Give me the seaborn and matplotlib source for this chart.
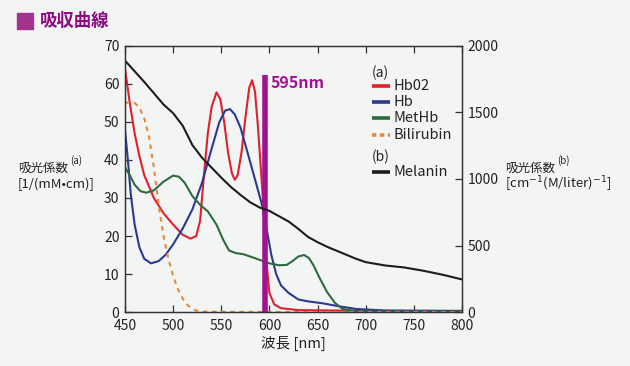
import numpy as np
import pandas as pd
import matplotlib
matplotlib.use("Agg")
import matplotlib.pyplot as plt
import seaborn as sns

# ---------------- data ----------------
hbo2_wl = [450, 455, 460, 465, 470, 480, 490, 500, 510, 518, 524, 528, 532, 536, 540, 545,
           549, 553, 557, 561, 564, 567, 571, 575, 579, 582, 585, 588, 591, 594, 597, 600,
           605, 612, 630, 700, 800]
hbo2_val = [64, 55, 47, 41, 36, 30, 26, 23, 20.3, 19.3, 20, 24, 36, 47, 54, 57.8,
            56, 50, 42, 36.5, 34.8, 36, 42, 51, 59, 61, 58, 49, 38, 27, 13, 5,
            2, 1, 0.5, 0.3, 0.2]

hb_wl = [450, 453, 456, 460, 465, 470, 477, 485, 492, 500, 510, 520, 530, 540, 548, 554,
         559, 564, 570, 575, 580, 586, 592, 597, 602, 607, 612, 620, 630, 640, 655, 670,
         690, 720, 800]
hb_val = [48, 40, 31, 23, 17, 14, 12.8, 13.4, 15, 17.8, 22, 27, 34, 43, 50, 53,
          53.4, 52, 48.5, 44, 39.5, 34, 28.5, 22, 15, 10, 7, 5, 3.3, 2.8, 2.3, 1.6,
          0.8, 0.4, 0.3]

methb_wl = [450, 455, 460, 466, 472, 480, 490, 500, 506, 512, 520, 528, 536, 545, 552, 558,
            565, 573, 580, 590, 600, 610, 618, 624, 630, 636, 641, 646, 652, 660, 668, 676,
            690, 800]
methb_val = [38, 36, 33.5, 31.8, 31.4, 32, 34.3, 35.9, 35.6, 34, 30.5, 28.2, 26.5, 23, 19, 16.2,
             15.5, 15.2, 14.6, 13.7, 12.8, 12.3, 12.4, 13.4, 14.6, 15, 14.2, 12.2, 9, 5.2, 2.4, 0.8,
             0.2, 0.1]

bili_wl = [450, 455, 460, 465, 470, 475, 480, 485, 490, 495, 500, 505, 510, 515, 520, 525,
           530, 600, 700, 800]
bili_val = [55, 55.2, 55, 53.8, 51, 46, 38, 28, 20, 14, 9.5, 6, 3.5, 1.8, 0.8, 0.3,
            0.1, 0, 0, 0]

melanin_wl = [450, 470, 490, 500, 510, 520, 530, 540, 550, 560, 570, 580, 590, 600, 610, 620,
              630, 640, 650, 660, 670, 680, 690, 700, 720, 740, 760, 780, 800]
melanin_val = [1890, 1730, 1560, 1495, 1400, 1255, 1160, 1085, 1010, 940, 880, 825, 785, 760, 720, 680,
               625, 565, 525, 490, 460, 430, 400, 375, 350, 335, 310, 280, 245]

marker_wl = 595
marker_top = 62.3

series_names = ["Hb02", "Hb", "MetHb", "Bilirubin"]
series_colors = ["#e0202c", "#2b3990", "#2e6b3c", "#e8883a"]
melanin_color = "#1c1c1c"
purple = "#a1128f"

xticks = [450, 500, 550, 600, 650, 700, 750, 800]
yticks_left = [0, 10, 20, 30, 40, 50, 60, 70]
yticks_right = [0, 500, 1000, 1500, 2000]

# ---------------- build tables ----------------
df = pd.concat([
    pd.DataFrame({"wl": hbo2_wl, "val": hbo2_val, "series": "Hb02"}),
    pd.DataFrame({"wl": hb_wl, "val": hb_val, "series": "Hb"}),
    pd.DataFrame({"wl": methb_wl, "val": methb_val, "series": "MetHb"}),
    pd.DataFrame({"wl": bili_wl, "val": bili_val, "series": "Bilirubin"}),
], ignore_index=True)
df_mel = pd.DataFrame({"wl": melanin_wl, "val": melanin_val})

# ---------------- style ----------------
sns.set_theme(style="white")
bg = "#f3f5f5"
plt.rcParams["font.family"] = ["Noto Sans CJK JP", "DejaVu Sans"]
plt.rcParams["axes.unicode_minus"] = False

fig = plt.figure(figsize=(6.3, 3.66), dpi=100, facecolor=bg)
ax = fig.add_axes([125 / 630, 54 / 366, 337 / 630, 266 / 366])
ax.set_facecolor(bg)

pal = dict(zip(series_names, series_colors))
dashes = {"Hb02": "", "Hb": "", "MetHb": "", "Bilirubin": (2.2, 2.2)}
sns.lineplot(data=df, x="wl", y="val", hue="series", style="series",
             palette=pal, dashes=dashes, hue_order=series_names, style_order=series_names,
             estimator=None, sort=False, legend=False, linewidth=1.5, ax=ax)

# purple 595nm marker
ax.vlines(marker_wl, 0, marker_top, color=purple, linewidth=4.0, zorder=5)
ax.text(601, 60.3, "595nm", color=purple, fontsize=11.5, fontweight="bold",
        ha="left", va="center")

ax.set_xlim(450, 800)
ax.set_ylim(0, 70)
ax.set_xticks(xticks)
ax.set_yticks(yticks_left)
ax.set_xlabel("波長 [nm]", fontsize=10.5, labelpad=2, color="#222222")
ax.set_ylabel("")
ax.tick_params(axis="both", direction="in", length=5, width=0.9, color="#333333",
               labelsize=10, labelcolor="#222222", pad=3)
ax.tick_params(axis="x", top=True, bottom=True, pad=5)
ax.tick_params(axis="y", left=True, right=False, pad=4)

ax2 = ax.twinx()
sns.lineplot(data=df_mel, x="wl", y="val", color=melanin_color, linewidth=1.5,
             estimator=None, sort=False, ax=ax2)
ax2.set_ylim(0, 2000)
ax2.set_yticks(yticks_right)
ax2.set_ylabel("")
ax2.tick_params(axis="y", direction="in", length=5, width=0.9, color="#333333",
                labelsize=10, labelcolor="#222222", pad=4, right=True)

for a in (ax, ax2):
    for s in a.spines.values():
        s.set_color("#333333")
        s.set_linewidth(0.9)

# legend (drawn by hand to keep the (a)/(b) grouping)
tr = ax.transAxes
lx0, lx1, tx = 0.733, 0.786, 0.797
ax.text(lx0, 0.898, "(a)", transform=tr, fontsize=10, va="center", ha="left", color="#222222")
leg_y = [0.850, 0.789, 0.729, 0.665]
for name, col, yy in zip(series_names, series_colors, leg_y):
    ls = (0, (1.2, 1.0)) if name == "Bilirubin" else "-"
    ax.plot([lx0, lx1], [yy, yy], transform=tr, color=col, linewidth=2.6,
            linestyle=ls, solid_capstyle="butt", dash_capstyle="butt")
    ax.text(tx, yy, name, transform=tr, fontsize=10.5, va="center", ha="left", color="#222222")
ax.text(lx0, 0.582, "(b)", transform=tr, fontsize=10, va="center", ha="left", color="#222222")
ax.plot([lx0, lx1], [0.526, 0.526], transform=tr, color=melanin_color, linewidth=2.6,
        solid_capstyle="butt")
ax.text(tx, 0.526, "Melanin", transform=tr, fontsize=10.5, va="center", ha="left", color="#222222")

# axis titles (left / right)
fig.text(18 / 630, 1 - 168 / 366, "吸光係数", fontsize=9, va="center", ha="left", color="#222222")
fig.text(70 / 630, 1 - 161 / 366, "(a)", fontsize=7, va="center", ha="left", color="#222222")
fig.text(18 / 630, 1 - 184 / 366, "[1/(mM•cm)]", fontsize=9.5, va="center", ha="left", color="#222222")

fig.text(505 / 630, 1 - 168 / 366, "吸光係数", fontsize=9, va="center", ha="left", color="#222222")
fig.text(557 / 630, 1 - 161 / 366, "(b)", fontsize=7, va="center", ha="left", color="#222222")
fig.text(505 / 630, 1 - 184 / 366, r"[cm$^{-1}$(M/liter)$^{-1}$]", fontsize=9.5,
         va="center", ha="left", color="#222222")

# title with square
fig.patches.append(matplotlib.patches.Rectangle((17 / 630, 1 - 29 / 366), 16 / 630, 16 / 366,
                                                transform=fig.transFigure, color="#a2338f"))
fig.text(40 / 630, 1 - 21 / 366, "吸収曲線", fontsize=12.5, fontweight="bold",
         va="center", ha="left", color="#8e0a84")

fig.savefig("out.png", dpi=100, facecolor=bg)
